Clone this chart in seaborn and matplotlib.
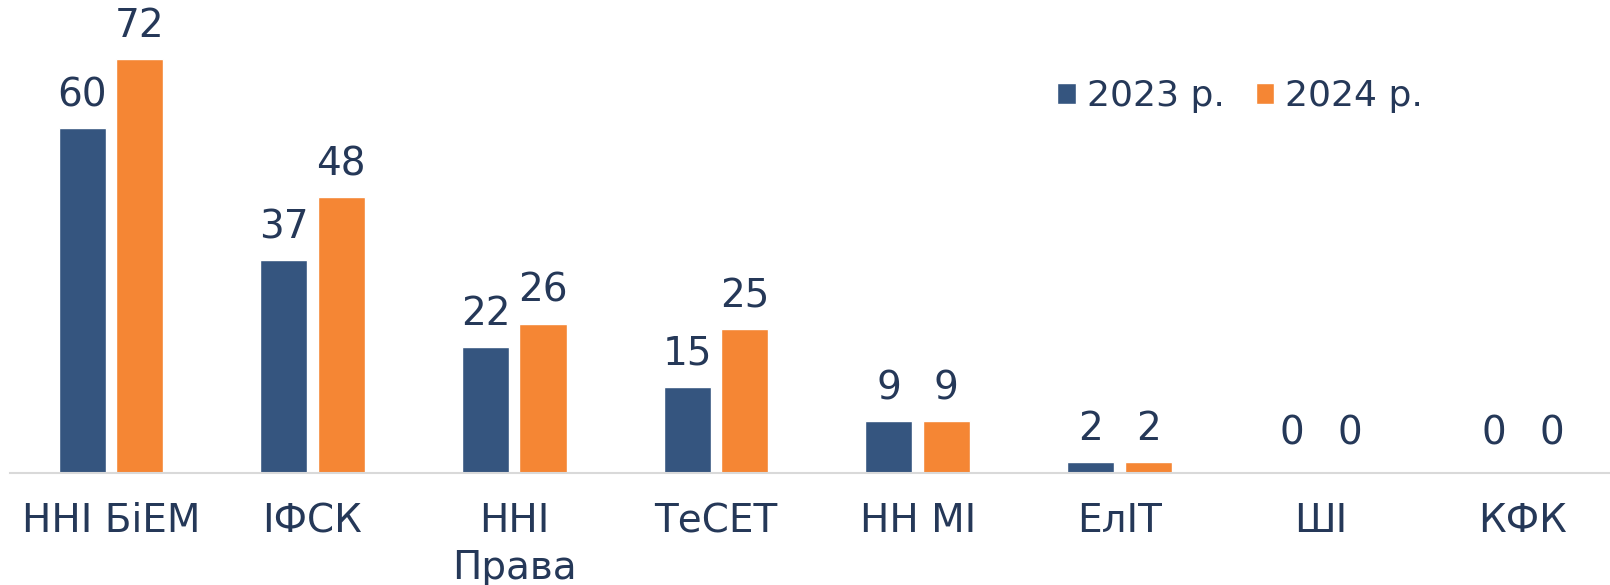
import matplotlib
matplotlib.use("Agg")
import matplotlib.pyplot as plt
import seaborn as sns
import pandas as pd

categories = ["ННІ БіЕМ", "ІФСК", "ННІ\nПрава", "ТеСЕТ", "НН МІ", "ЕлІТ", "ШІ", "КФК"]
series_names = ["2023 р.", "2024 р."]
values_2023 = [60, 37, 22, 15, 9, 2, 0, 0]
values_2024 = [72, 48, 26, 25, 9, 2, 0, 0]

colors = ["#35557F", "#F58634"]
text_color = "#253858"

df = pd.DataFrame({
    "category": categories * 2,
    "year": [series_names[0]] * len(categories) + [series_names[1]] * len(categories),
    "value": values_2023 + values_2024,
})

sns.set_theme(style="white")
plt.rcParams["font.family"] = ["DejaVu Sans"]

W, H = 1610, 585
fig = plt.figure(figsize=(W / 100, H / 100), dpi=100)
base_y = 473
top_y = 13
left = 10
span = 8 * 201.7
ax = fig.add_axes([left / W, (H - base_y) / H, span / W, (base_y - top_y) / H])

sns.barplot(data=df, x="category", y="value", hue="year", order=categories,
            hue_order=series_names, palette=colors, width=0.57, gap=0.18,
            saturation=1, ax=ax, legend=True)

ax.set_xlim(-0.5, 7.5)
ax.set_ylim(0, 80)
for c in ax.containers:
    vals = c.datavalues
    ax.bar_label(c, labels=[f"{int(v)}" if v > 0 else "" for v in vals], padding=10,
                 fontsize=28, color=text_color)
    ax.bar_label(c, labels=[f"{int(v)}" if v == 0 else "" for v in vals], padding=15,
                 fontsize=28, color=text_color)

for s in ["top", "right", "left"]:
    ax.spines[s].set_visible(False)
ax.spines["bottom"].set_color("#D9D9D9")
ax.spines["bottom"].set_linewidth(1.5)
ax.set_yticks([])
ax.set_xlabel("")
ax.set_ylabel("")
ax.tick_params(axis="x", length=0, pad=21, labelsize=28, labelcolor=text_color)
for t in ax.get_xticklabels():
    t.set_linespacing(1.3)

h, l = ax.get_legend_handles_labels()
ax.legend(h, l, loc="center left", bbox_to_anchor=(1043 / W, 1 - 96 / H),
          bbox_transform=fig.transFigure, ncol=2, frameon=False, fontsize=26,
          handlelength=0.52, handleheight=0.52, handletextpad=0.3,
          columnspacing=0.85, labelcolor=text_color, borderaxespad=0)

fig.savefig("out.png", dpi=100)
